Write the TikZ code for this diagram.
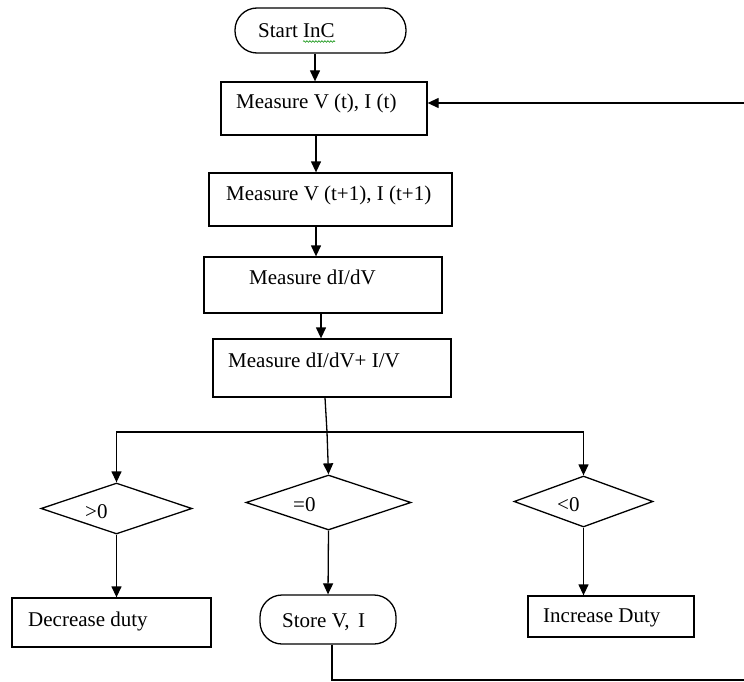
\documentclass[tikz,border=0pt]{standalone}
\usepackage{fontspec}
\setmainfont{Liberation Serif}
\usetikzlibrary{shapes.geometric,arrows.meta,decorations.pathmorphing}
\begin{document}
\begin{tikzpicture}[x=1pt,y=-1pt,
  box/.style={draw, line width=1.3pt, rectangle, inner sep=0pt},
  term/.style={draw, line width=1.3pt, rectangle, rounded corners=22pt, inner sep=0pt},
  dec/.style={draw, line width=1.3pt, diamond, inner sep=0pt},
  lbl/.style={anchor=base west, inner sep=0pt, font=\fontsize{21}{25}\selectfont},
  conn/.style={line width=1.3pt},
  arr/.style={conn, -{Triangle[length=11pt,width=10pt]}}]
\useasboundingbox (0,0) rectangle (744,682);
\fill[white] (0,0) rectangle (744,682);

% shapes
\node[term, minimum width=171pt, minimum height=45pt] (s0) at (320.5,30.5) {};
\node[box, minimum width=206pt, minimum height=53pt] (b1) at (324,108.5) {};
\node[box, minimum width=243pt, minimum height=53pt] (b2) at (330.5,199.5) {};
\node[box, minimum width=238pt, minimum height=56pt] (b3) at (323,285) {};
\node[box, minimum width=238pt, minimum height=58pt] (b4) at (332,368) {};
\node[dec, minimum width=151pt, minimum height=51pt] (dL) at (116.5,508.5) {};
\node[dec, minimum width=165pt, minimum height=55pt] (dM) at (328.5,502.5) {};
\node[dec, minimum width=139pt, minimum height=51pt] (dR) at (583.5,501.5) {};
\node[box, minimum width=199pt, minimum height=49pt] (bL) at (111.5,622.5) {};
\node[term, minimum width=136pt, minimum height=49pt] (bM) at (328,619.5) {};
\node[box, minimum width=166pt, minimum height=41pt] (bR) at (611,616.5) {};

% labels
\node[lbl] (t0) at (258,38) {Start InC};
\draw[green!55!black, line width=0.6pt, decorate, decoration={snake, amplitude=0.8pt, segment length=3pt}] (303,41.5) -- (335,41.5);
\node[lbl] (t1) at (236,109) {Measure V (t), I (t)};
\node[lbl] (t2) at (226,200) {Measure V (t+1), I (t+1)};
\node[lbl] (t3) at (249,284) {Measure dI/dV};
\node[lbl] (t4) at (228,367) {Measure dI/dV+ I/V};
\node[lbl] (tL) at (85,518) {>0};
\node[lbl] (tM) at (293,511) {=0};
\node[lbl] (tR) at (557,511) {<0};
\node[lbl] (tbL) at (28,626) {Decrease duty};
\node[lbl] (tbM) at (282,627) {Store V,\, I};
\node[lbl] (tbR) at (543,622) {Increase Duty};

% column coordinates
\coordinate (c1) at (315,0);
\coordinate (c2) at (316,0);
\coordinate (c3) at (321,0);
\coordinate (c4) at (325,0);
\coordinate (c5) at (332,0);
\coordinate (j) at (327,432);
\coordinate (loopTop) at (744,103);
\coordinate (loopBot) at (744,680);

% connectors
\draw[arr] (s0.south -| c1) -- (b1.north -| c1);
\draw[arr] (loopTop) -- (loopTop -| b1.east);
\draw[arr] (b1.south -| c2) -- (b2.north -| c2);
\draw[arr] (b2.south -| c2) -- (b3.north -| c2);
\draw[arr] (b3.south -| c3) -- (b4.north -| c3);
\draw[conn] (b4.south -| c4) -- (j);
\draw[arr] (j) -- (dM.north);
\draw[arr] (j) -| (dL.north);
\draw[arr] (j) -| (dR.north);
\draw[arr] (dL.south) -- (bL.north -| dL.south);
\draw[arr] (dM.south) -- (bM.north);
\draw[arr] (dR.south) -- (bR.north -| dR.south);
\draw[conn] (bM.south -| c5) |- (loopBot);
\end{tikzpicture}
\end{document}
